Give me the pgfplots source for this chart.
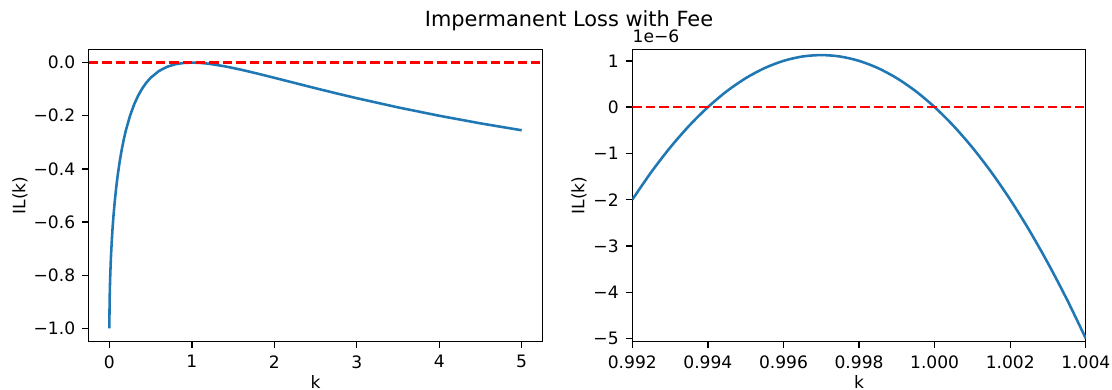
\documentclass[border=0pt]{standalone}
\usepackage{fontspec}
\setmainfont{DejaVu Sans}
\usepackage{pgfplots}
\usepackage{pgfplotstable}
\pgfplotsset{compat=1.18}
\definecolor{mplblue}{HTML}{1F77B4}

% IL(k) = 2 sqrt(k)/(1+k) - 1 over the full range of k
\pgfplotstableread{
k      il
0      -1.0
0.0002 -0.97172
0.0005 -0.95530
0.001  -0.93682
0.002  -0.91074
0.003  -0.89078
0.005  -0.85928
0.0075 -0.82808
0.01   -0.80198
0.015  -0.75867
0.02   -0.72270
0.03   -0.66368
0.04   -0.61538
0.05   -0.57408
0.065  -0.52122
0.08   -0.47622
0.1    -0.42504
0.125  -0.37146
0.15   -0.32644
0.175  -0.28795
0.2    -0.25464
0.25   -0.2
0.3    -0.15735
0.35   -0.12354
0.4    -0.09649
0.45   -0.07473
0.5    -0.05719
0.6    -0.03175
0.7    -0.01569
0.8    -0.00619
0.9    -0.00139
1.0     0.0
1.1    -0.00113
1.2    -0.00414
1.4    -0.01399
1.6    -0.02699
1.8    -0.04169
2.0    -0.05719
2.25   -0.07692
2.5    -0.09649
2.75   -0.11557
3.0    -0.13397
3.5    -0.16852
4.0    -0.2
4.5    -0.22861
5.0    -0.25464
}\ilfull

% Close-up near k = 1, values in units of 1e-6
\pgfplotstableread{
k       il
0.9920  -2.000
0.9925  -1.406
0.9930  -0.875
0.9935  -0.406
0.9940   0.000
0.9945   0.344
0.9950   0.625
0.9955   0.844
0.9960   1.000
0.9965   1.094
0.9970   1.125
0.9975   1.094
0.9980   1.000
0.9985   0.844
0.9990   0.625
0.9995   0.344
1.0000   0.000
1.0005  -0.406
1.0010  -0.875
1.0015  -1.406
1.0020  -2.000
1.0025  -2.656
1.0030  -3.375
1.0035  -4.156
1.0040  -5.000
}\ilzoom

\pgfplotsset{
  ilaxis/.style={
    scale only axis, width=226.75pt, height=146.2pt,
    axis line style={line width=0.68pt, black},
    every tick/.style={line width=0.68pt, black},
    tick align=outside, major tick length=3.3pt,
    xtick pos=bottom, ytick pos=left,
    ticklabel style={font=\fontsize{8.55}{10}\selectfont, text=black},
    label style={font=\fontsize{8.55}{10}\selectfont},
    xlabel={k}, ylabel={IL(k)},
    xlabel style={at={(rel axis cs:0.5,0)}, anchor=base, yshift=-23.2pt},
  },
  curve/.style={mplblue, line width=1.28pt, no markers},
  zeroline/.style={red, line width=1.28pt, dash pattern=on 4.7pt off 2.0pt, no markers},
}

\begin{document}
\begin{tikzpicture}
\path[use as bounding box] (0,0) rectangle (556pt,195pt);

\node[anchor=base, font=\fontsize{10.45}{12}\selectfont] at (284.5pt,181.65pt) {Impermanent Loss with Fee};

\begin{axis}[ilaxis, at={(44.4pt,24.15pt)}, anchor=south west,
  xmin=-0.25, xmax=5.25, ymin=-1.05, ymax=0.05,
  xtick={0,1,2,3,4,5}, xticklabels={0,1,2,3,4,5},
  ytick={-1,-0.8,-0.6,-0.4,-0.2,0},
  yticklabels={−1.0,−0.8,−0.6,−0.4,−0.2,0.0},
  ylabel style={at={([xshift=-34.4pt]rel axis cs:0,0.5)}, anchor=center},
]
\addplot[curve] table[x=k, y=il] {\ilfull};
\addplot[zeroline] coordinates {(-0.25,0) (5.25,0)};
\end{axis}

\begin{axis}[ilaxis, name=zoomaxis, at={(316.15pt,24.15pt)}, anchor=south west,
  xmin=0.992, xmax=1.004, ymin=-5.07, ymax=1.25,
  xtick={0.992,0.994,0.996,0.998,1.000,1.002,1.004},
  xticklabels={0.992,0.994,0.996,0.998,1.000,1.002,1.004},
  ytick={-5,-4,-3,-2,-1,0,1},
  yticklabels={−5,−4,−3,−2,−1,0,1},
  scaled x ticks=false,
  ylabel style={at={([xshift=-26.65pt]rel axis cs:0,0.5)}, anchor=center},
]
\addplot[curve, smooth] table[x=k, y=il] {\ilzoom};
\addplot[zeroline] coordinates {(0.992,0) (1.004,0)};
\end{axis}
% offset text for the close-up's y axis
\node[anchor=base west, inner sep=0pt, font=\fontsize{8.55}{10}\selectfont]
  at ([yshift=3.2pt]zoomaxis.north west) {1e−6};
\end{tikzpicture}
\end{document}
